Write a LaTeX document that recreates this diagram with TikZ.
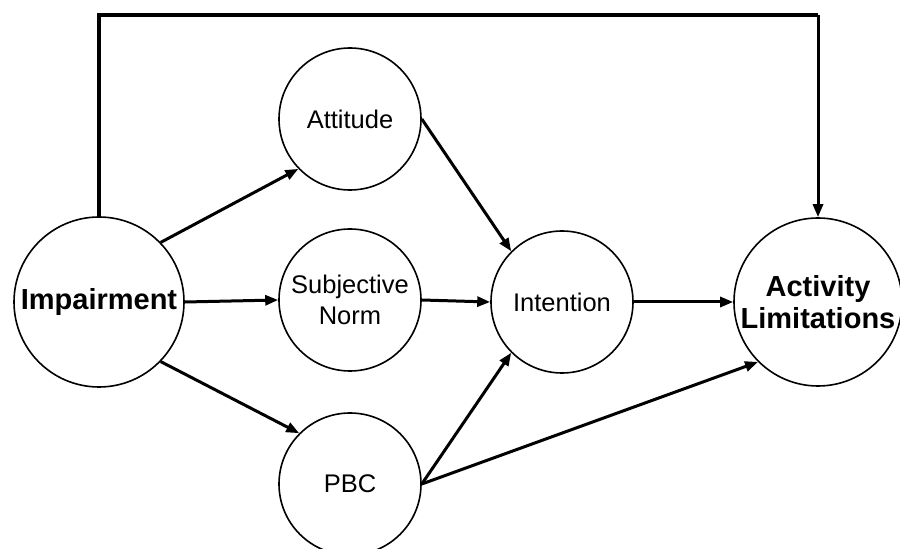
\documentclass[tikz,border=0pt]{standalone}
\usepackage{fontspec}
\setmainfont{Liberation Sans}
\usetikzlibrary{arrows.meta}
\begin{document}
\begin{tikzpicture}[x=1pt,y=1pt,
  circ/.style={circle, draw, line width=1.6pt, minimum size=#1, inner sep=0pt, align=center,
    font=\fontsize{25.5}{31}\selectfont},
  boldtext/.style={font=\fontsize{29}{32}\selectfont\bfseries},
  conn/.style={line width=3pt, -{Triangle[length=13pt,width=10pt]}},
  plainline/.style={line width=3.2pt}]
\useasboundingbox (0,0) rectangle (900,549);
\node[circ=170pt, boldtext] (imp) at (99,247) {Impairment};
\node[circ=142pt] (att) at (350,430) {Attitude};
\node[circ=142pt] (sn) at (350,249) {Subjective\\Norm};
\node[circ=142pt] (pbc) at (350,65) {PBC};
\node[circ=142pt] (int) at (562,247) {Intention};
\node[circ=168pt, boldtext] (act) at (818,247) {Activity\\Limitations};
\coordinate (tl) at (99,534);
\coordinate (tr) at (818,534);
\draw[conn] (imp.44) -- (att.224);
\draw[conn] (imp.0) -- (sn.180);
\draw[conn] (imp.-44) -- (pbc.135);
\draw[conn] (att.0) -- (int.135);
\draw[conn] (sn.0) -- (int.180);
\draw[conn] (pbc.0) -- (int.225);
\draw[conn] (pbc.0) -- (act.225);
\draw[conn] (int.0) -- (act.180);
\draw[plainline] (imp.north) -- (tl) -- (tr);
\draw[conn] (tr) -- (act.north);
\end{tikzpicture}
\end{document}
